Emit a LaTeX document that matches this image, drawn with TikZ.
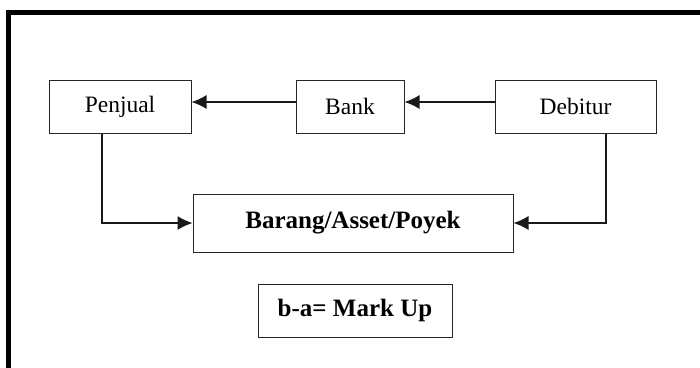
\documentclass[tikz,border=0pt]{standalone}
\usepackage{fontspec}
\setmainfont{Liberation Serif}
\usetikzlibrary{arrows.meta}
\begin{document}
\begin{tikzpicture}[x=1pt,y=-1pt,
  box/.style={draw=black!85,line width=1pt,inner sep=0pt,anchor=center,
    font=\fontsize{23.5}{27}\selectfont},
  bigbox/.style={box,font=\fontsize{25}{29}\selectfont\bfseries},
  arr/.style={draw=black!90,line width=1.3pt,-{Latex[length=15pt,width=14pt]}},
  frame/.style={line width=5pt,line join=miter}]
\useasboundingbox (0,0) rectangle (700,367);
\draw[frame] (8.5,380) -- (8.5,12.5) -- (720,12.5);
\node[box,minimum width=142pt,minimum height=53pt] (penjual) at (120,106.5) {Penjual};
\node[box,minimum width=108pt,minimum height=53pt] (bank) at (350,106.5) {Bank};
\node[box,minimum width=161pt,minimum height=53pt] (debitur) at (575.5,106.5) {Debitur};
\node[bigbox,minimum width=320pt,minimum height=58pt] (barang) at (353,223) {Barang/Asset/Poyek};
\node[bigbox,minimum width=194pt,minimum height=53pt] (markup) at (355,310.5) {b-a= Mark Up};
\draw[arr] ([yshift=4.5pt]bank.west) -- ([yshift=4.5pt]penjual.east);
\draw[arr] ([yshift=4.5pt]debitur.west) -- ([yshift=4.5pt]bank.east);
\draw[arr] ([xshift=-18pt]penjual.south) |- (barang.west);
\draw[arr] ([xshift=30.5pt]debitur.south) |- (barang.east);
\end{tikzpicture}
\end{document}
